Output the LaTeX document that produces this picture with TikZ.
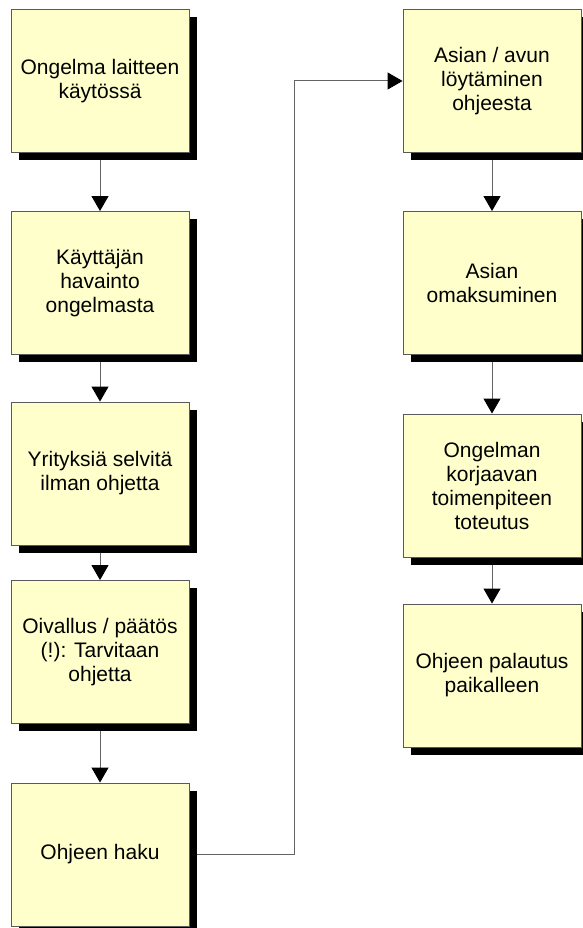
\documentclass[tikz,border=0pt]{standalone}
\usepackage{fontspec}
\setmainfont{Liberation Sans}
\usetikzlibrary{arrows.meta}
\definecolor{boxfill}{HTML}{FFFFCC}
\definecolor{boxline}{RGB}{90,90,90}
\definecolor{conn}{RGB}{100,100,100}
\begin{document}
\begin{tikzpicture}[x=1pt,y=-1pt,
  stepbox/.style={rectangle, draw=boxline, line width=0.9pt, fill=boxfill,
    minimum width=178pt, minimum height=143pt, inner sep=2pt,
    align=center, font=\fontsize{21}{24}\selectfont},
  shadowbox/.style={rectangle, fill=black, draw=none,
    minimum width=178pt, minimum height=143pt, inner sep=0pt},
  arr/.style={draw=conn, line width=1pt, -{Triangle[width=17pt,length=15pt,fill=black,color=black]}}]
\fill[white] (0,0) rectangle (582,928);
\useasboundingbox (0,0) rectangle (582,928);
% shadows
\foreach \n/\px/\py in {sL1/100/81, sL2/100/283, sL3/100/473.5, sL4/100/652, sL5/100/854.5,
  sR1/492/81, sR2/492/283, sR3/492/485.5, sR4/492/675.5}
  \node[shadowbox] (\n) at (\px+7.5,\py+7.5) {};
\node[stepbox] (L1) at (100,81) {Ongelma laitteen\\käytössä};
\node[stepbox] (L2) at (100,283) {Käyttäjän\\havainto\\ongelmasta};
\node[stepbox] (L3) at (100,473.5) {Yrityksiä selvitä\\ilman ohjetta};
\node[stepbox] (L4) at (100,652) {Oivallus / päätös\\(!): Tarvitaan\\ohjetta};
\node[stepbox] (L5) at (100,854.5) {Ohjeen haku};
\node[stepbox] (R1) at (492,81) {Asian / avun\\löytäminen\\ohjeesta};
\node[stepbox] (R2) at (492,283) {Asian\\omaksuminen};
\node[stepbox] (R3) at (492,485.5) {Ongelman\\korjaavan\\toimenpiteen\\toteutus};
\node[stepbox] (R4) at (492,675.5) {Ohjeen palautus\\paikalleen};
\coordinate (bend) at (294,81);
\draw[arr] ([yshift=-7.5pt]L1.south) -- (L2.north);
\draw[arr] ([yshift=-7.5pt]L2.south) -- (L3.north);
\draw[arr] ([yshift=-7.5pt]L3.south) -- (L4.north);
\draw[arr] ([yshift=-7.5pt]L4.south) -- (L5.north);
\draw[arr] ([yshift=-7.5pt]R1.south) -- (R2.north);
\draw[arr] ([yshift=-7.5pt]R2.south) -- (R3.north);
\draw[arr] ([yshift=-7.5pt]R3.south) -- (R4.north);
\draw[arr] ([xshift=7.5pt]L5.east) -| (bend) -- (R1.west);
\end{tikzpicture}
\end{document}
